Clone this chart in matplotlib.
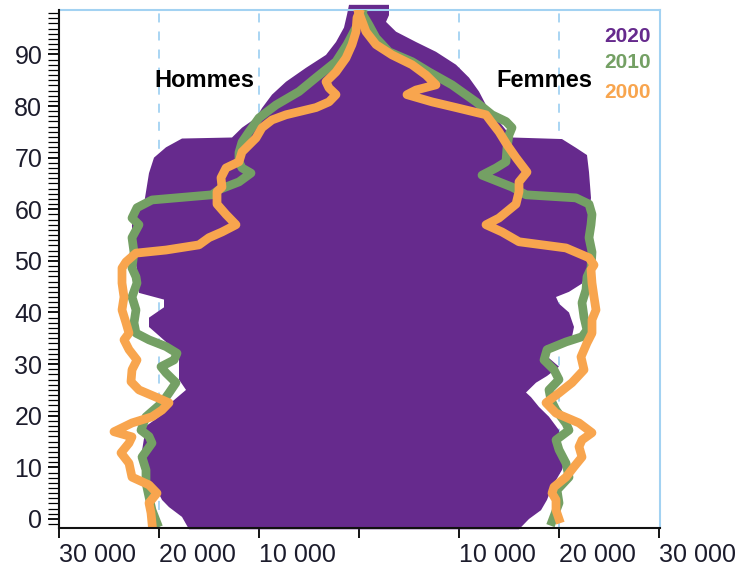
import numpy as np
import matplotlib
matplotlib.use("Agg")
import matplotlib.pyplot as plt
from matplotlib.ticker import MultipleLocator

plt.rcParams['font.family'] = ['Liberation Sans', 'DejaVu Sans']

# 2020 : population (contour de la pyramide)
age_2020_h = [-2, 0.4, 2.3, 3.7, 5.6, 8, 12, 18, 20.5, 21.5, 22.7, 25, 27, 29.5, 32, 34.3, 35.5,
              37.2, 39, 41, 42.5, 43.8, 46, 48, 54.5, 59, 61, 67, 70, 72, 73.7, 73.9, 75.8,
              77.7, 79.6, 82.2, 84.7, 87.4, 89.9, 92.4, 95.2, 97.7, 99.6]
pop_2020_h = [17000, 17700, 19000, 19700, 20200, 21300, 21800, 21300, 19500, 19200, 18700, 17300,
              18000, 18000, 18000, 19300, 20000, 21000, 21000, 19500, 19500, 22000, 22200, 22200,
              22700, 22700, 21500, 21000, 20500, 19300, 17700, 12700, 11700, 10300, 9700, 8700,
              7300, 5300, 3300, 2300, 1500, 1200, 1000]
age_2020_f = [-2, 0, 1.7, 3.7, 6.2, 9.5, 12, 14.7, 17.2, 19.8, 21.7, 23.6, 24.5, 26.4, 27.7, 29.5,
              32, 33.5, 35.3, 37.2, 40, 41.7, 43, 44, 45.6, 48, 54.5, 59.5, 62.2, 67.2, 70.5,
              71.9, 73.6, 73.9, 77.7, 80.2, 82.8, 85.5, 88, 90.5, 92.4, 94.4, 96.3, 97.6, 99.6]
pop_2020_f = [16000, 17000, 18200, 18800, 19300, 20300, 20700, 20000, 20000, 19000, 18000, 17200,
              16700, 17700, 18800, 20000, 18500, 18700, 21300, 21500, 21000, 20000, 19700, 21000,
              22300, 22800, 23000, 23000, 23200, 23000, 22800, 21700, 20300, 15300, 13700, 12700,
              12000, 11000, 9700, 7700, 5700, 3700, 2700, 3000, 3000]

# 2010
age_2010_h = [-0.8, 1.7, 4.3, 7, 9.5, 12, 14.7, 16, 17.2, 19.8, 22.5, 24.4, 26.4, 28.3, 29.5, 30.8,
              32.1, 33.4, 34.7, 36, 38, 40.5, 43, 45.7, 46.9, 48.6, 51.7, 54.5, 57, 58.3, 60.3,
              61.8, 62.8, 63.8, 65.3, 67, 68, 69.2, 71, 73, 75, 77.7, 80.2, 82.8, 85.5, 88.6,
              91.9, 95.2, 98]
pop_2010_h = [20200, 20700, 21000, 21300, 21300, 21700, 20700, 21000, 21800, 21300, 19700, 19000,
              18300, 19300, 19800, 18500, 18200, 19300, 21000, 22300, 22500, 22300, 22700, 22200,
              22300, 22700, 22500, 22700, 22000, 22700, 22200, 20700, 14700, 14000, 12000, 10800,
              11700, 12000, 12000, 11700, 11000, 10000, 8300, 6000, 4300, 2300, 1200, 300, -300]
age_2010_f = [-0.5, 3.1, 5.6, 8.1, 10.8, 13.4, 15.3, 17.2, 18.5, 21.1, 23, 25, 27, 28.9, 30.8, 32.8,
              34.3, 35.3, 36.6, 39.1, 41.9, 44.4, 46.9, 48.6, 51.7, 54.5, 57, 59, 61, 62.2, 62.8,
              64.3, 66.6, 68, 69.2, 71.9, 74.4, 75.8, 77, 78.3, 80.8, 84.1, 86.6, 88.6, 90.5,
              93.2, 95.7, 98]
pop_2010_f = [19300, 20000, 19800, 21000, 20700, 20000, 19700, 21000, 20700, 19700, 19200, 19000,
              20000, 19500, 18500, 18800, 20700, 22300, 22800, 22500, 22300, 22700, 22800, 23200,
              23300, 23000, 23200, 23300, 23000, 21700, 16700, 15300, 12300, 13700, 14700, 14800,
              15000, 15300, 14700, 13300, 11700, 9300, 7000, 5300, 3000, 1700, 1000, 300]

# 2000
age_2000_h = [-0.8, 1.2, 3.1, 5, 6.6, 8.1, 10.8, 12.8, 14.7, 15.9, 16.9, 18.6, 19.8, 21.1, 22.5,
              23.6, 25, 26.6, 28.9, 30.8, 32.8, 34.7, 36, 38, 40.5, 43, 45.7, 48.6, 49.8, 51.5,
              52.1, 53.1, 54.5, 55.6, 57, 59, 61, 63.4, 64.3, 66.1, 68, 69.2, 71.1, 73.8, 75.8,
              77.3, 78.3, 79.7, 80.8, 82.2, 83.5, 84.7, 86.6, 89.3, 91.9, 94.4, 97.1, 98]
pop_2000_h = [20700, 20800, 21000, 20200, 21000, 22700, 23000, 23800, 23000, 22700, 24500, 22700,
              20700, 19700, 19000, 20300, 22000, 22800, 22700, 22200, 23000, 23500, 23000, 23300,
              23700, 23500, 23700, 23700, 23300, 22300, 19300, 16000, 15000, 13700, 12300, 13300,
              14200, 14200, 13700, 13800, 13300, 12000, 11700, 10300, 9700, 8700, 7300, 4300,
              3000, 2300, 3000, 3300, 2300, 1300, 700, 300, 200, 0]
age_2000_f = [0, 1.7, 3.7, 5, 6.2, 8.1, 10.1, 12, 14, 15.3, 16.7, 18.6, 20.5, 22.5, 24.4, 26.4,
              28.9, 31.4, 34.1, 36, 38.6, 40.5, 43, 45.7, 48.3, 49.2, 50.6, 52.5, 53.7, 55.6, 57,
              58.3, 61, 63.4, 65.3, 67.2, 70, 72.5, 75, 77, 78.3, 79.7, 80.8, 82.2, 83.1, 84.1,
              86, 88, 89.9, 91.9, 94.4, 98]
pop_2000_f = [20000, 19700, 19700, 19300, 19500, 20700, 21500, 22300, 22000, 22300, 23300, 22000,
              19700, 18700, 20000, 21300, 22500, 22200, 22800, 23300, 23300, 23700, 23500, 23300,
              23200, 23500, 23000, 20700, 16000, 14300, 12700, 14000, 15700, 16000, 16000, 16800,
              15700, 14800, 14000, 13200, 12700, 9700, 7300, 4800, 5700, 7700, 6700, 5300, 3300,
              1700, 700, 0]

x_ticks = [-30000, -20000, -10000, 0, 10000, 20000, 30000]
x_labels = ['30 000', '20 000', '10 000', '', '10 000', '20 000', '30 000']

purple = '#662a8d'
green = '#74a064'
orange = '#f8a54e'
light_blue = '#a3d2f2'

fig = plt.figure(figsize=(7.44, 5.69), dpi=100)
ax = fig.add_axes([59 / 744, 1 - 528 / 569, 601 / 744, 518 / 569])

# grille pointillée
for gx in [-20000, -10000, 10000, 20000]:
    ax.axvline(gx, color=light_blue, lw=1.3, ls=(0, (5, 5)), zorder=1)

# pyramide 2020 (un seul polygone)
px = np.concatenate([-np.array(pop_2020_h), np.array(pop_2020_f)[::-1]])
py = np.concatenate([np.array(age_2020_h), np.array(age_2020_f)[::-1]])
ax.fill(px, py, color=purple, lw=0, zorder=2, clip_on=False)

lw = 6.3
ax.plot(-np.array(pop_2010_h), age_2010_h, color=green, lw=lw, solid_joinstyle='round', zorder=3)
ax.plot(pop_2010_f, age_2010_f, color=green, lw=lw, solid_joinstyle='round', zorder=3)
ax.plot(-np.array(pop_2000_h), age_2000_h, color=orange, lw=lw, solid_joinstyle='round', zorder=4)
ax.plot(pop_2000_f, age_2000_f, color=orange, lw=lw, solid_joinstyle='round', zorder=4)

ax.set_xlim(-30000, 30100)
ax.set_ylim(-1.75, 98.6)

ax.set_xticks(x_ticks)
ax.set_xticklabels(x_labels, ha='left', fontsize=18, color='#1c1c2c')
ax.set_yticks(range(0, 91, 10))
ax.yaxis.set_minor_locator(MultipleLocator(1))
ax.tick_params(axis='y', which='major', length=8, width=1.3, labelsize=18, labelcolor='#1c1c2c', pad=4)
ax.tick_params(axis='y', which='minor', length=8, width=0.9)
ax.tick_params(axis='x', length=7, width=1.3, pad=4)

for s in ['top', 'right']:
    ax.spines[s].set_color(light_blue)
    ax.spines[s].set_linewidth(1.5)
for s in ['left', 'bottom']:
    ax.spines[s].set_color('#111111')
    ax.spines[s].set_linewidth(1.5)
    ax.spines[s].set_zorder(5)

ax.text(-15500, 85, 'Hommes', ha='center', va='center', fontsize=17, fontweight='bold', zorder=6)
ax.text(18500, 85, 'Femmes', ha='center', va='center', fontsize=17, fontweight='bold', zorder=6)
ax.text(29200, 93.4, '2020', ha='right', va='center', fontsize=15, fontweight='bold', color=purple)
ax.text(29200, 88.4, '2010', ha='right', va='center', fontsize=15, fontweight='bold', color=green)
ax.text(29200, 82.6, '2000', ha='right', va='center', fontsize=15, fontweight='bold', color=orange)

fig.savefig('out.png', dpi=100)
